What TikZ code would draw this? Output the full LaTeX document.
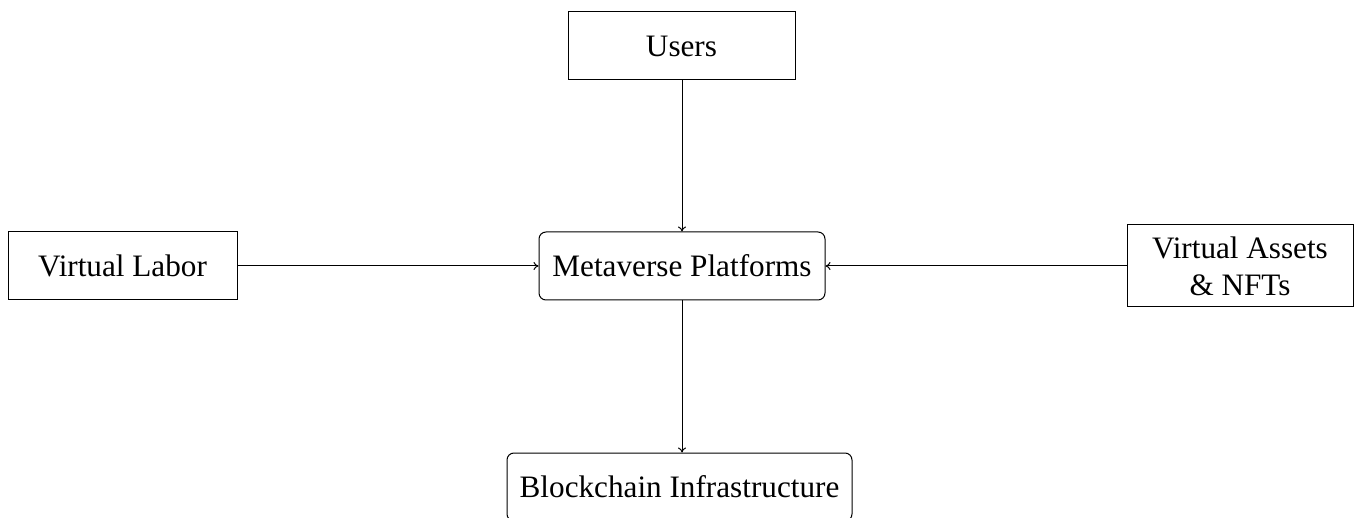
\documentclass[tikz,border=0pt]{standalone}
\usepackage{fontspec}
\setmainfont{Liberation Serif}
\usetikzlibrary{arrows.meta}
\begin{document}
\begin{tikzpicture}[x=0.5pt,y=-0.5pt,
  box/.style={draw, line width=0.5pt, inner sep=0pt, align=center,
    font=\fontsize{15.6}{18.5}\selectfont},
  rbox/.style={box, rounded corners=3.5pt},
  conn/.style={-{To[length=2.5pt,width=4pt]}, line width=0.5pt}]
\useasboundingbox (0,0) rectangle (1355,518);
\node[box, minimum width=113.5pt, minimum height=34pt] (users) at (681.5,46) {Users};
\node[rbox, minimum width=143pt, minimum height=34pt] (meta) at (682,266) {Metaverse Platforms};
\node[rbox, minimum width=172.5pt, minimum height=34pt] (block) at (679.5,487) {Blockchain Infrastructure};
\node[box, minimum width=114.5pt, minimum height=34pt] (labor) at (122.5,266) {Virtual Labor};
\node[box, minimum width=113pt, minimum height=41pt] (assets) at (1240,266) {Virtual Assets\\\& NFTs};
\draw[conn] (users.south -| meta.north) -- (meta.north);
\draw[conn] (labor.east) -- (meta.west);
\draw[conn] (assets.west) -- (meta.east);
\draw[conn] (meta.south) -- (meta.south |- block.north);
\end{tikzpicture}
\end{document}
